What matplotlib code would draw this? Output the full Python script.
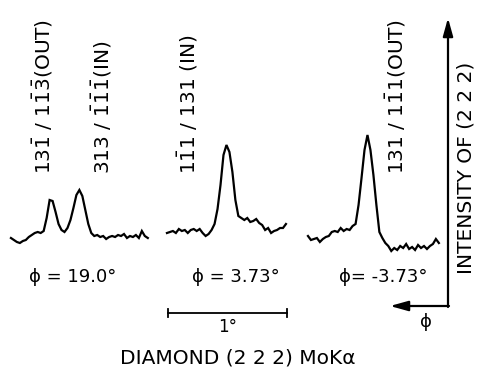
import matplotlib.pyplot as plt
from matplotlib.transforms import Affine2D

plt.rcParams['font.family'] = 'DejaVu Sans'
plt.rcParams['mathtext.default'] = 'regular'

# phi scans, step 0.025 deg, intensity in arbitrary units
step = 0.025
int_190 = [22, 20, 18, 17, 19, 20, 23, 25, 27, 28,
           27, 29, 42, 60, 59, 48, 36, 30, 28, 32,
           40, 52, 65, 70, 64, 50, 36, 27, 24, 25,
           23, 24, 21, 23, 24, 23, 25, 24, 26, 22,
           24, 23, 25, 22, 29, 24, 22]
int_373 = [27, 28, 29, 27, 31, 29, 30, 27, 30, 31,
           29, 31, 27, 24, 26, 30, 36, 51, 75, 105,
           115, 108, 88, 60, 44, 42, 40, 42, 38, 39,
           41, 37, 35, 30, 32, 27, 29, 30, 32, 32,
           36]
int_m373 = [24, 20, 21, 22, 18, 21, 23, 24, 28, 29,
            28, 32, 29, 31, 30, 34, 36, 55, 82, 110,
            125, 110, 85, 55, 28, 22, 17, 14, 9, 12,
            10, 14, 12, 16, 11, 13, 10, 15, 12, 14,
            11, 14, 16, 21, 17]

labels = [r"13$\bar{1}$ / 1$\bar{1}\bar{3}$(OUT)",
          r"313 / $\bar{1}\bar{1}\bar{1}$(IN)",
          r"1$\bar{1}$1 / 131 (IN)",
          r"131 / 1$\bar{1}$1(OUT)"]
phi_texts = ["ϕ = 19.0°", "ϕ = 3.73°", "ϕ= -3.73°"]

W, H = 478, 369
fig = plt.figure(figsize=(W / 100, H / 100), dpi=100)
ax = fig.add_axes([0, 0, 1, 1])
ax.set_xlim(0, W / 119)      # 119 px per degree
ax.set_ylim(260 - H, 260)
ax.axis('off')

# pixel transform for annotations
px = Affine2D().scale(1 / W, -1 / H).translate(0, 1) + fig.transFigure

starts = [0.092, 1.403, 2.588]
for s, vals in zip(starts, [int_190, int_373, int_m373]):
    xs = [s + i * step for i in range(len(vals))]
    ax.plot(xs, vals, color='black', lw=1.6, solid_joinstyle='miter')

for x, lab in zip([43, 102, 188, 396], labels):
    ax.text(x, 174, lab, transform=px, rotation=90, ha='center', va='bottom',
            fontsize=14.5)

for x, t in zip([73, 236, 383], phi_texts):
    ax.text(x, 277, t, transform=px, ha='center', va='center', fontsize=13)

# 1 degree scale bar
x0 = 168 / 119
ax.plot([x0, x0 + 1.0], [260 - 313, 260 - 313], color='black', lw=1.3)
ax.plot([x0, x0], [260 - 309, 260 - 317], color='black', lw=1.3)
ax.plot([x0 + 1.0, x0 + 1.0], [260 - 309, 260 - 317], color='black', lw=1.3)
ax.text(228, 327, "1°", transform=px, ha='center', va='center', fontsize=12)

ax.text(238, 358, "DIAMOND (2 2 2) MoKα", transform=px, ha='center',
        va='center', fontsize=14.5)

# axes arrows
arrow = dict(arrowstyle='-|>,head_length=0.9,head_width=0.25', lw=1.6,
             color='black', shrinkA=0, shrinkB=0, mutation_scale=12)
ax.annotate("", xy=(448, 18), xytext=(448, 307), xycoords=px,
            textcoords=px, arrowprops=arrow)
ax.annotate("", xy=(390, 306), xytext=(449, 306), xycoords=px,
            textcoords=px, arrowprops=arrow)
ax.text(426, 322, "ϕ", transform=px, ha='center', va='center', fontsize=13)
ax.text(466, 168, "INTENSITY OF (2 2 2)", transform=px, rotation=90,
        ha='center', va='center', fontsize=14.5)

fig.savefig('out.png', dpi=100)
